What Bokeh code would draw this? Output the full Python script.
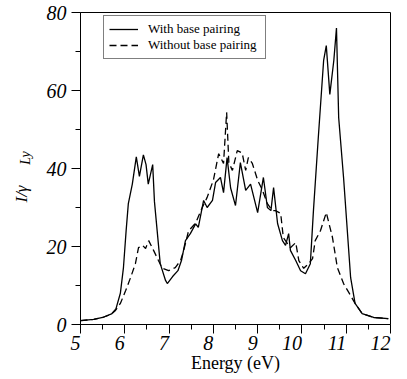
from bokeh.plotting import figure
from bokeh.models import Range1d, Legend, LegendItem, LinearAxis, FixedTicker
from bokeh.embed import file_html
from bokeh.resources import INLINE

# Data
energy_with = [5.0, 5.3, 5.5, 5.7, 5.8, 5.9, 5.97, 6.03, 6.08, 6.17, 6.26, 6.33, 6.42, 6.48,
               6.53, 6.63, 6.67, 6.8, 6.92, 6.96, 7.08, 7.2, 7.28, 7.37, 7.48, 7.6, 7.66, 7.78,
               7.86, 7.98, 8.05, 8.16, 8.23, 8.31, 8.39, 8.5, 8.61, 8.73, 8.84, 9.0, 9.13, 9.22,
               9.3, 9.36, 9.45, 9.56, 9.63, 9.7, 9.74, 9.86, 9.97, 10.08, 10.19, 10.26, 10.37,
               10.49, 10.55, 10.63, 10.72, 10.78, 10.83, 10.94, 11.1, 11.2, 11.36, 11.62, 11.95]
intensity_with = [1.0, 1.3, 1.8, 2.7, 4.0, 8.0, 14.6, 24.0, 31.0, 36.0, 43.0, 38.0, 43.5, 41.0,
                  36.0, 41.0, 31.5, 15.6, 11.3, 10.5, 12.3, 13.8, 16.4, 21.5, 23.3, 25.8, 24.9, 31.8,
                  30.0, 31.8, 36.4, 37.7, 33.8, 42.8, 35.0, 30.5, 41.5, 34.4, 36.0, 28.7, 37.7, 30.0,
                  29.2, 35.1, 25.9, 21.5, 20.3, 23.3, 19.0, 16.4, 13.8, 13.0, 15.6, 29.2, 48.0,
                  67.7, 71.5, 59.0, 67.7, 76.0, 53.0, 37.7, 12.0, 5.4, 2.8, 1.8, 1.5]

energy_without = [5.0, 5.3, 5.5, 5.7, 5.79, 5.9, 6.02, 6.13, 6.24, 6.31, 6.4, 6.47, 6.54, 6.65,
                  6.76, 6.85, 6.99, 7.14, 7.26, 7.33, 7.44, 7.6, 7.75, 7.86, 8.0, 8.12, 8.23,
                  8.3, 8.35, 8.43, 8.54, 8.65, 8.73, 8.79, 8.88, 9.0, 9.11, 9.22, 9.33, 9.4,
                  9.52, 9.58, 9.74, 9.86, 9.93, 10.04, 10.15, 10.24, 10.3, 10.42, 10.55, 10.69,
                  10.8, 10.94, 11.1, 11.2, 11.36, 11.62, 11.95]
intensity_without = [1.0, 1.3, 1.8, 2.7, 3.6, 5.4, 8.7, 12.0, 15.6, 19.7, 20.3, 19.5, 21.5, 19.0,
                     16.4, 14.4, 13.8, 14.6, 16.4, 19.0, 24.0, 26.0, 30.0, 32.6, 37.0, 43.8, 41.3,
                     54.4, 41.5, 39.5, 44.6, 44.0, 39.5, 42.8, 41.3, 37.0, 34.4, 31.0, 29.2, 29.2,
                     28.5, 22.3, 19.7, 21.0, 16.4, 14.4, 15.6, 16.9, 21.5, 24.1, 28.7, 22.3,
                     14.6, 10.5, 7.4, 5.4, 2.8, 1.8, 1.5]

x_ticks = [5, 6, 7, 8, 9, 10, 11, 12]
x_minor = [5.5, 6.5, 7.5, 8.5, 9.5, 10.5, 11.5]
y_ticks = [0, 20, 40, 60, 80]
y_minor = [10, 30, 50, 70]
series_labels = ["With base pairing", "Without base pairing"]
x_title = "Energy (eV)"
y_title_main = "I/γ"
y_title_sub = "Ly"

SERIF = "'Liberation Serif'"
NB = "\u00a0"

p = figure(frame_width=310, frame_height=312, output_backend="svg", toolbar_location=None,
           x_range=Range1d(5, 12), y_range=Range1d(0, 80),
           min_border_left=80, min_border_right=9, min_border_top=12, min_border_bottom=0)
p.background_fill_color = "white"
p.outline_line_color = "black"
p.outline_line_width = 1
p.xgrid.visible = False
p.ygrid.visible = False

r1 = p.line(energy_with, intensity_with, line_color="black", line_width=1.3)
r2 = p.line(energy_without, intensity_without, line_color="black", line_width=1.3,
            line_dash="7 4")

for ax in (p.xaxis[0], p.yaxis[0]):
    ax.axis_line_color = "black"
    ax.major_tick_line_color = "black"
    ax.minor_tick_line_color = "black"
    ax.major_tick_in = 0
    ax.major_tick_out = 9
    ax.minor_tick_in = 0
    ax.minor_tick_out = 5
    ax.major_label_text_font = SERIF
    ax.major_label_text_font_style = "italic"
    ax.major_label_text_font_size = "20px"
    ax.major_label_text_color = "black"
    ax.major_label_orientation = 0.00001

p.xaxis[0].ticker = FixedTicker(ticks=x_ticks, minor_ticks=x_minor)
p.yaxis[0].ticker = FixedTicker(ticks=y_ticks, minor_ticks=y_minor)
p.xaxis.major_label_standoff = 9
p.yaxis.major_label_standoff = 5

p.xaxis.axis_label = x_title.replace(" ", NB, 1)
p.xaxis.axis_label_text_font = SERIF
p.xaxis.axis_label_text_font_style = "normal"
p.xaxis.axis_label_text_font_size = "18px"
p.xaxis.axis_label_standoff = -7
p.xaxis.axis_label_text_color = "black"

# y title: subscript on the y axis, main part on an extra outer axis (rotated text)
p.yaxis.axis_label = "\u2003\u2002" + y_title_sub
p.yaxis.axis_label_text_font = SERIF
p.yaxis.axis_label_text_font_style = "italic"
p.yaxis.axis_label_text_font_size = "14px"
p.yaxis.axis_label_standoff = 10
p.yaxis.axis_label_text_color = "black"

outer = LinearAxis(ticker=FixedTicker(ticks=[]), axis_line_color=None,
                   major_tick_line_color=None, minor_tick_line_color=None,
                   major_label_text_font_size="0px")
outer.axis_label = y_title_main + "\u2003\u2003\u2003"
outer.axis_label_text_font = SERIF
outer.axis_label_text_font_style = "italic"
outer.axis_label_text_font_size = "17px"
outer.axis_label_standoff = -15
outer.axis_label_text_color = "black"
p.add_layout(outer, "left")

legend = Legend(items=[LegendItem(label=series_labels[0] + NB, renderers=[r1]),
                       LegendItem(label=series_labels[1] + NB, renderers=[r2])],
                location=(23, 265), orientation="vertical")
legend.label_text_font = SERIF
legend.label_text_font_size = "13px"
legend.label_text_color = "black"
legend.padding = 5
legend.spacing = 0
legend.margin = 0
legend.label_height = 14
legend.glyph_height = 14
legend.glyph_width = 29
legend.label_standoff = 10
legend.border_line_color = "black"
legend.border_line_width = 1
legend.background_fill_alpha = 1
p.add_layout(legend)

open("out.html", "w").write(file_html(p, INLINE))
